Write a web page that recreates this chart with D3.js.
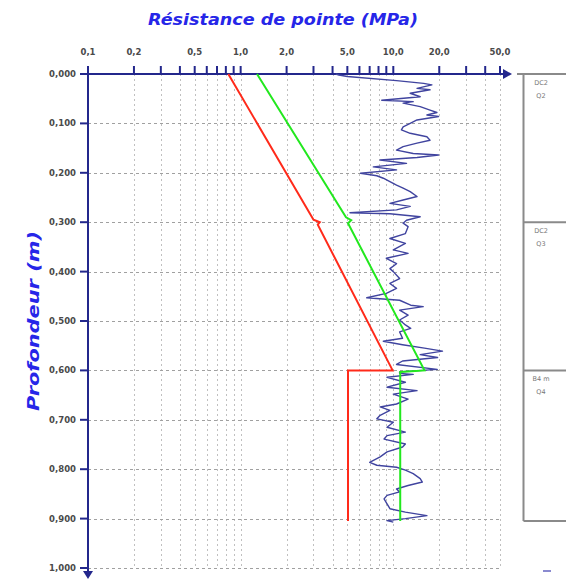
<!DOCTYPE html>
<html>
<head>
<meta charset="utf-8">
<title>Résistance de pointe</title>
<style>
  body { margin: 0; padding: 0; background: #fff; }
  text { font-family: 'DejaVu Sans', sans-serif; }
  .tick-label { fill: #4a4a4a; font-weight: bold; font-size: 8.5px; }
  .layer-label { fill: #777; font-size: 6.5px; }
  .title { fill: #2626e8; font-weight: bold; font-style: italic; font-size: 16px; }
</style>
</head>
<body>
<div id="vis"></div>
<script src="https://cdn.jsdelivr.net/npm/d3@7/dist/d3.min.js"></script>
<script>
// top axis (log, MPa)
var qcTicks = [0.1, 0.2, 0.3, 0.4, 0.5, 0.6, 0.7, 0.8, 0.9, 1, 2, 3, 4, 5, 6, 7, 8, 9, 10, 20, 30, 40, 50];
var qcLabelValues = [0.1, 0.2, 0.5, 1, 2, 5, 10, 20, 50];
var qcLabelTexts = ["0,1", "0,2", "0,5", "1,0", "2,0", "5,0", "10,0", "20,0", "50,0"];

// left axis (depth, m)
var depthTicks = [0, 0.1, 0.2, 0.3, 0.4, 0.5, 0.6, 0.7, 0.8, 0.9, 1.0];
var depthLabels = ["0,000", "0,100", "0,200", "0,300", "0,400", "0,500", "0,600", "0,700", "0,800", "0,900", "1,000"];

// measured cone resistance
var cptDepth = [0.000, 0.002, 0.005, 0.0135, 0.019, 0.022, 0.029, 0.032, 0.039, 0.046, 0.053, 0.056, 0.059,
  0.066, 0.073, 0.078, 0.083, 0.086, 0.093, 0.100, 0.107, 0.113, 0.120, 0.127, 0.134, 0.140, 0.147, 0.154,
  0.161, 0.164, 0.169, 0.174, 0.181, 0.188, 0.194, 0.201, 0.206, 0.211, 0.218, 0.225, 0.231, 0.238, 0.248,
  0.255, 0.262, 0.268, 0.275, 0.281, 0.283, 0.289, 0.296, 0.302,
  0.309, 0.323, 0.333, 0.343, 0.356, 0.363, 0.373, 0.384,
  0.394, 0.400, 0.414, 0.424, 0.434, 0.444, 0.453, 0.458, 0.468, 0.471, 0.478, 0.488, 0.498, 0.508, 0.515, 0.522,
  0.535, 0.541, 0.548, 0.555, 0.561, 0.568, 0.574, 0.581, 0.588, 0.598, 0.603, 0.606, 0.608, 0.614, 0.624, 0.634,
  0.641, 0.648, 0.658, 0.668, 0.674, 0.681, 0.691, 0.698, 0.705, 0.715, 0.725, 0.732, 0.739, 0.749, 0.755, 0.765,
  0.775, 0.786, 0.792, 0.796, 0.802, 0.809, 0.819, 0.826, 0.833, 0.840, 0.846, 0.853, 0.860, 0.870, 0.880, 0.887,
  0.894, 0.900, 0.904, 0.907];
var cptQc = [4.2, 4.4, 5.0, 10.5, 15.8, 17.9, 14.3, 17.4, 12.9, 15.0, 8.4, 13.5, 11.6,
  15.0, 17.4, 19.3, 16.6, 19.8, 14.3, 12.9, 11.6, 11.3, 12.9, 16.6, 17.4, 14.3, 11.6, 10.5,
  13.5, 19.8, 14.3, 8.2, 12.2, 7.4, 10.5, 6.1, 7.8, 8.6, 9.5, 10.5, 11.6, 12.9, 14.3,
  11.6, 9.5, 12.9, 10.5, 5.2, 9.5, 15.0, 12.2, 11.6,
  12.5, 12, 9.5, 12, 10, 12.5, 9, 10.5,
  9.5, 10, 11, 9.5, 10.5, 9, 6.7, 11, 13, 15.7, 11, 12.5, 11, 12, 13, 11,
  11.5, 8.6, 11.5, 16, 21, 15, 19.5, 11.5, 10.5, 19.4, 11, 11, 13.5, 9.1, 12, 9.1,
  14.3, 10, 12.5, 10.5, 8.2, 9.5, 8.2, 7.8, 10, 9.1, 12, 9.1, 8.7, 12, 11.5, 9.1,
  8.2, 7.0, 7.8, 10.5, 12, 13.5, 15, 15.5, 12.5, 10.5, 11, 9.1, 8.7, 9.1, 9.5, 12,
  16.6, 12, 9.1, 10];

// red profile
var redDepth = [0, 0.295, 0.300, 0.305, 0.600, 0.600, 0.905];
var redQc = [0.83, 3.0, 3.3, 3.2, 9.9, 5.05, 5.05];

// green profile
var greenDepth = [0, 0.290, 0.296, 0.302, 0.600, 0.603, 0.905];
var greenQc = [1.28, 4.9, 5.3, 5.05, 16, 11.1, 11.1];

// layers on the right
var layerTop = [0, 0.3, 0.6];
var layerBottom = 0.905;
var layerName = ["DC2", "DC2", "B4 m"];
var layerCode = ["Q2", "Q3", "Q4"];

var width = 566, height = 588,
    axisColor = "#23278c";

var x = d3.scaleLog().domain([0.1, 50]).range([88, 500]);
var y = d3.scaleLinear().domain([0, 1]).range([74, 568]);

var svg = d3.select("#vis").append("svg")
    .attr("width", width)
    .attr("height", height);

// grid
var grid = svg.append("g").attr("class", "grid");
grid.selectAll("line.v")
  .data(qcTicks.filter(function(d) { return d > 0.1; }))
  .enter().append("line")
    .attr("class", "v")
    .attr("x1", function(d) { return Math.round(x(d)) + 0.5; })
    .attr("x2", function(d) { return Math.round(x(d)) + 0.5; })
    .attr("y1", y(0)).attr("y2", y(1))
    .style("stroke", "#c0c0c0")
    .style("stroke-width", 1)
    .style("stroke-dasharray", "2,3");

grid.selectAll("line.h")
  .data(depthTicks.filter(function(d) { return d > 0; }))
  .enter().append("line")
    .attr("class", "h")
    .attr("x1", x(0.1)).attr("x2", x(50) + 2)
    .attr("y1", function(d) { return Math.round(y(d)) + 0.5; })
    .attr("y2", function(d) { return Math.round(y(d)) + 0.5; })
    .style("stroke", "#a0a0a0")
    .style("stroke-width", 1)
    .style("stroke-dasharray", "3,3");

// title
svg.append("text")
  .attr("class", "title")
  .attr("x", 148).attr("y", 25)
  .attr("textLength", 270)
  .attr("lengthAdjust", "spacingAndGlyphs")
  .text("Résistance de pointe (MPa)");

svg.append("text")
  .attr("class", "title")
  .attr("transform", "translate(39,411) rotate(-90)")
  .attr("textLength", 180)
  .attr("lengthAdjust", "spacingAndGlyphs")
  .text("Profondeur (m)");

// top axis
var topAxis = svg.append("g").attr("class", "top-axis");
topAxis.append("line")
  .attr("x1", x(0.1) - 1).attr("x2", 505)
  .attr("y1", y(0)).attr("y2", y(0))
  .style("stroke", axisColor).style("stroke-width", 2);
topAxis.append("path")
  .attr("d", "M503," + (y(0) - 5) + "L512," + y(0) + "L503," + (y(0) + 5) + "Z")
  .style("fill", axisColor);
topAxis.selectAll("line.tick")
  .data(qcTicks)
  .enter().append("line")
    .attr("class", "tick")
    .attr("x1", function(d) { return x(d); })
    .attr("x2", function(d) { return x(d); })
    .attr("y1", y(0) - 8).attr("y2", y(0))
    .style("stroke", axisColor).style("stroke-width", 2);
topAxis.selectAll("text")
  .data(qcLabelValues)
  .enter().append("text")
    .attr("class", "tick-label")
    .attr("x", function(d) { return x(d); })
    .attr("y", 55)
    .attr("text-anchor", "middle")
    .text(function(d, i) { return qcLabelTexts[i]; });

// left axis
var leftAxis = svg.append("g").attr("class", "left-axis");
leftAxis.append("line")
  .attr("x1", x(0.1)).attr("x2", x(0.1))
  .attr("y1", y(0) - 1).attr("y2", 572)
  .style("stroke", axisColor).style("stroke-width", 2);
leftAxis.append("path")
  .attr("d", "M" + (x(0.1) - 5) + ",571L" + x(0.1) + ",579L" + (x(0.1) + 5) + ",571Z")
  .style("fill", axisColor);
leftAxis.selectAll("line.tick")
  .data(depthTicks)
  .enter().append("line")
    .attr("class", "tick")
    .attr("x1", x(0.1) - 8).attr("x2", x(0.1))
    .attr("y1", function(d) { return y(d); })
    .attr("y2", function(d) { return y(d); })
    .style("stroke", axisColor).style("stroke-width", 2);
leftAxis.selectAll("text")
  .data(depthTicks)
  .enter().append("text")
    .attr("class", "tick-label")
    .attr("x", 76)
    .attr("y", function(d) { return y(d) + 3; })
    .attr("text-anchor", "end")
    .text(function(d, i) { return depthLabels[i]; });

// profiles
function profile(depths, values) {
  return depths.map(function(d, i) { return [values[i], d]; });
}
var line = d3.line()
  .x(function(p) { return x(p[0]); })
  .y(function(p) { return y(p[1]); });

svg.append("path")
  .datum(profile(cptDepth, cptQc))
  .attr("d", line)
  .style("fill", "none")
  .style("stroke", "#40449f")
  .style("stroke-width", 1.4)
  .style("stroke-linejoin", "round");

svg.append("path")
  .datum(profile(redDepth, redQc))
  .attr("d", line)
  .style("fill", "none")
  .style("stroke", "#ff2a1a")
  .style("stroke-width", 2);

svg.append("path")
  .datum(profile(greenDepth, greenQc))
  .attr("d", line)
  .style("fill", "none")
  .style("stroke", "#22e81e")
  .style("stroke-width", 2);

// layer column
var layers = svg.append("g").attr("class", "layers");
var colX = 523.5;
layers.append("line")
  .attr("x1", colX).attr("x2", colX)
  .attr("y1", y(0)).attr("y2", y(layerBottom))
  .style("stroke", "#8a8a8a").style("stroke-width", 2);
layers.selectAll("line.top")
  .data(layerTop)
  .enter().append("line")
    .attr("class", "top")
    .attr("x1", function(d) { return d === 0 ? 517 : colX; })
    .attr("x2", width)
    .attr("y1", function(d) { return y(d); })
    .attr("y2", function(d) { return y(d); })
    .style("stroke", "#8a8a8a").style("stroke-width", 2);
layers.append("line")
  .attr("x1", colX).attr("x2", width)
  .attr("y1", y(layerBottom)).attr("y2", y(layerBottom))
  .style("stroke", "#8a8a8a").style("stroke-width", 2);
layers.selectAll("text.name")
  .data(layerTop)
  .enter().append("text")
    .attr("class", "layer-label name")
    .attr("x", 541).attr("y", function(d) { return y(d) + 11; })
    .attr("text-anchor", "middle")
    .text(function(d, i) { return layerName[i]; });
layers.selectAll("text.code")
  .data(layerTop)
  .enter().append("text")
    .attr("class", "layer-label code")
    .attr("x", 541).attr("y", function(d) { return y(d) + 24; })
    .attr("text-anchor", "middle")
    .text(function(d, i) { return layerCode[i]; });

// small mark under the column
svg.append("line")
  .attr("x1", 543).attr("x2", 551)
  .attr("y1", 571).attr("y2", 571)
  .style("stroke", "#8a8ad0").style("stroke-width", 2);
</script>
</body>
</html>
